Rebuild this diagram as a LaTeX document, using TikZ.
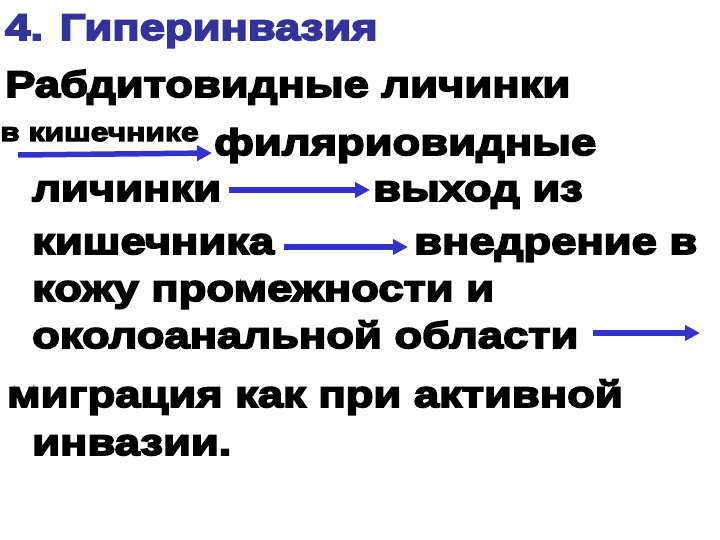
\documentclass[tikz,border=0pt]{standalone}
\usepackage{fontspec}
\setmainfont{Liberation Sans}[FakeStretch=1.23,BoldFeatures={FakeBold=5}]
\usetikzlibrary{arrows.meta}
\definecolor{ttl}{HTML}{333399}
\definecolor{arrc}{HTML}{3333CC}
\begin{document}
\begin{tikzpicture}[x=1bp,y=-1bp,
  txt/.style={anchor=base west, inner sep=0pt, font=\fontsize{37}{37}\selectfont\bfseries},
  small/.style={anchor=base west, inner sep=0pt, font=\fontsize{26}{26}\selectfont\bfseries},
  arrow/.style={draw=arrc, line width=5.5bp, -{Triangle[length=15bp,width=15bp]}}]
\useasboundingbox (0,0) rectangle (720,540);
\node[txt, text=ttl] (t1) at (5,40) {4. Гиперинвазия};
\node[txt] (t2) at (5,97) {Рабдитовидные личинки};
\node[small] (ks) at (0,141) {в кишечнике};
\node[txt] (fil) at (214,155) {филяриовидные};
\node[txt] (lich) at (32,201) {личинки};
\node[txt] (vyh) at (373,201) {выход из};
\node[txt] (kish) at (32,254) {кишечника};
\node[txt] (vne) at (414,254) {внедрение в};
\node[txt] (kozh) at (32,301) {кожу промежности и};
\node[txt] (obl) at (32,348) {околоанальной области};
\coordinate (end4) at (700,333);
\node[txt] (mig) at (7,407) {миграция как при активной};
\node[txt] (inv) at (32,455) {инвазии.};
\draw[arrow] ([shift={(18,14)}]ks.base west) -- ([shift={(-2,-2)}]fil.base west);
\draw[arrow] ([shift={(8,-11)}]lich.base east) -- ([shift={(-3,-11)}]vyh.base west);
\draw[arrow] ([shift={(10,-7)}]kish.base east) -- ([shift={(-6,-7)}]vne.base west);
\draw[arrow] ([shift={(14,-15)}]obl.base east) -- (end4);
\end{tikzpicture}
\end{document}
